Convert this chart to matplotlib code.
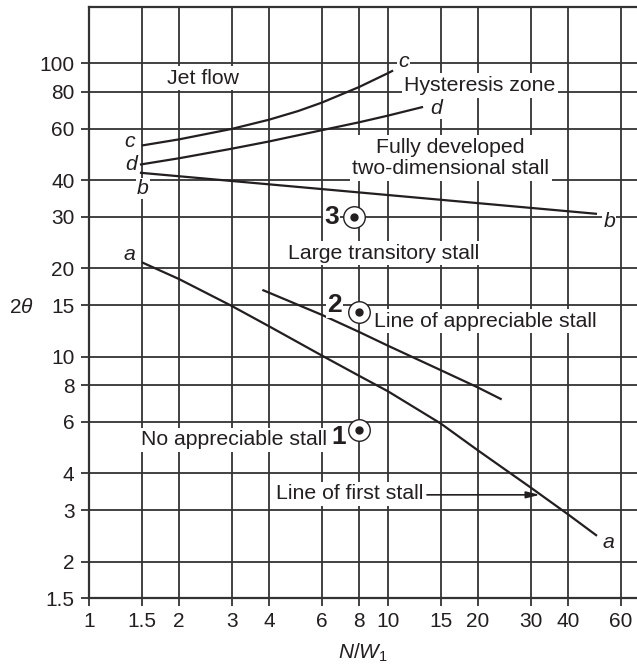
import numpy as np
import matplotlib
matplotlib.use("Agg")
import matplotlib.pyplot as plt

plt.rcParams['font.family'] = ['Liberation Sans', 'DejaVu Sans']
plt.rcParams['mathtext.fontset'] = 'custom'
plt.rcParams['mathtext.rm'] = 'Liberation Sans'
plt.rcParams['mathtext.it'] = 'Liberation Sans:italic'

# curves (N/W1, 2theta)
a_x = [1.5, 2, 3, 4, 6, 8, 10, 15, 20, 30, 40, 50]
a_y = [21.0, 18.4, 14.9, 12.7, 10.1, 8.61, 7.62, 5.92, 4.79, 3.58, 2.90, 2.45]
appr_x = [3.8, 6, 8, 10, 15, 20, 24]
appr_y = [16.9, 13.9, 12.15, 10.9, 9.0, 7.85, 7.15]
b_x = [1.48, 6, 50]
b_y = [42.4, 37.3, 30.7]
c_x = [1.5, 2, 3, 4, 5, 6, 8, 10, 10.4]
c_y = [52.5, 55.1, 59.8, 64.3, 68.8, 73.5, 83.1, 92.7, 94.6]
d_x = [1.48, 2, 3, 4, 6, 8, 10, 13.1]
d_y = [45.2, 47.5, 51.2, 54.2, 59.2, 63.0, 66.4, 71.1]

# numbered test points
pt_x = [8, 8, 7.7]
pt_y = [5.63, 14.2, 30]
pt_num = ['1', '2', '3']

xticks = [1, 1.5, 2, 3, 4, 6, 8, 10, 15, 20, 30, 40, 60]
yticks = [1.5, 2, 3, 4, 6, 8, 10, 15, 20, 30, 40, 60, 80, 100]

ink = '#231f20'

fig = plt.figure(figsize=(6.37, 6.67), dpi=100)
ax = fig.add_axes([89 / 637, 1 - 598.3 / 667, 551 / 637, 591.3 / 667])
ax.set_xscale('log')
ax.set_yscale('log')
ax.set_xlim(1, 10 ** (551 / 299))
ax.set_ylim(1.5, 155.8)

ax.set_xticks(xticks)
ax.set_xticklabels([f'{v:g}' for v in xticks])
ax.set_yticks(yticks)
ax.set_yticklabels([f'{v:g}' for v in yticks])
ax.minorticks_off()
ax.tick_params(direction='out', length=5.5, width=1.3, color='#333333',
               labelsize=15, labelcolor=ink)
ax.tick_params(axis='x', pad=4.5)
ax.tick_params(axis='y', pad=5)
ax.grid(True, color='#333333', lw=1.3)
ax.set_axisbelow(True)
for s in ['left', 'bottom', 'top']:
    ax.spines[s].set_linewidth(1.6)
    ax.spines[s].set_color('#333333')
ax.spines['right'].set_visible(False)

lw = 1.6
for xs, ys in [(a_x, a_y), (appr_x, appr_y), (b_x, b_y), (c_x, c_y), (d_x, d_y)]:
    ax.plot(xs, ys, color=ink, lw=lw, solid_capstyle='butt',
            solid_joinstyle='round', zorder=3)

ax.plot(pt_x, pt_y, 'o', ms=15.5, mfc='white', mec=ink, mew=1.0, zorder=4)
ax.plot(pt_x, pt_y, 'o', ms=5, color=ink, zorder=5)

box = dict(boxstyle='square,pad=0.12', fc='white', ec='none')
fs = 15.3
labels = [
    (2.40, 89.2, 'Jet flow'),
    (20.3, 84.1, 'Hysteresis zone'),
    (16.2, 47.6, 'Fully developed\ntwo-dimensional stall'),
    (9.66, 22.5, 'Large transitory stall'),
    (21.2, 13.2, 'Line of appreciable stall'),
    (3.05, 5.2, 'No appreciable stall'),
    (7.45, 3.41, 'Line of first stall'),
]
for x, y, t in labels:
    ax.text(x, y, t, ha='center', va='center', fontsize=fs, color=ink,
            bbox=box, multialignment='center', linespacing=1.15, zorder=6)

letters = [
    (1.371, 54.0, 'c'), (1.379, 45.3, 'd'), (1.512, 37.4, 'b'), (1.364, 22.3, 'a'),
    (11.3, 101.3, 'c'), (14.55, 70.2, 'd'), (55, 29.0, 'b'), (54.6, 2.32, 'a'),
]
for x, y, t in letters:
    ax.text(x, y, t, ha='center', va='center', fontsize=fs, style='italic',
            color=ink, bbox=dict(boxstyle='square,pad=0.05', fc='white', ec='none'),
            zorder=6)

num_pos = [(6.82, 5.33), (6.64, 15.06), (6.48, 30)]
for (x, y), t in zip(num_pos, pt_num):
    ax.text(x, y, t, ha='center', va='center', fontsize=19, fontweight='bold',
            color=ink, bbox=dict(boxstyle='square,pad=0.05', fc='white', ec='none'),
            zorder=6)

ax.annotate('', xy=(32.2, 3.38), xytext=(13.5, 3.38),
            arrowprops=dict(arrowstyle='-|>,head_length=0.8,head_width=0.2',
                            color=ink, lw=1.2, shrinkA=0, shrinkB=0), zorder=6)

fig.text(21.7 / 637, 1 - 307.3 / 667, r'2$\theta$', ha='center', va='center',
         fontsize=15, color=ink)
fig.text(363 / 637, 1 - 653 / 667, r'$N/W_1$', ha='center', va='center',
         fontsize=15, color=ink)

fig.savefig('out.png', dpi=100)
